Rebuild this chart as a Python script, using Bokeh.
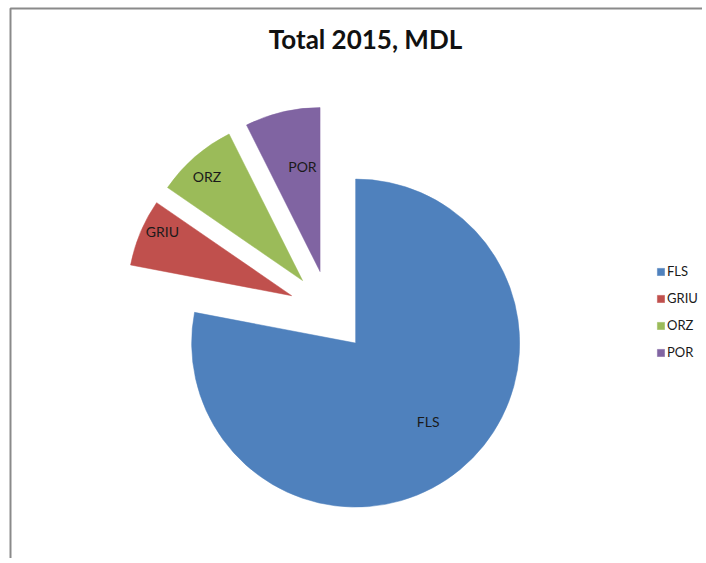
import math
from bokeh.plotting import figure
from bokeh.models import Range1d, Legend, LegendItem, Label, ColumnDataSource
from bokeh.core.properties import value
from bokeh.embed import file_html
from bokeh.resources import INLINE

# ---- data ----
categories = ["FLS", "GRIU", "ORZ", "POR"]
shares = [78.0, 6.6, 8.0, 7.4]
colors = ["#4F81BD", "#C0504D", "#9BBB59", "#8064A2"]
title_text = "Total 2015, MDL"

# ---- layout (data coords == screen px; y up) ----
W, H = 702, 558
CX, CY = 329, 563 - 311      # pie centre
R = 164                      # radius
EXPLODE = 41                 # explosion distance
label_frac = [0.65, 0.88, 0.86, 0.65]
label_dtheta = [-3.3, 3.7, -1.6, 3.8]

p = figure(width=W, height=H, x_range=Range1d(0, W), y_range=Range1d(563 - H, 563),
           output_backend="svg", toolbar_location=None, min_border=0)
p.axis.visible = False
p.grid.visible = False
p.outline_line_color = None
p.background_fill_color = "white"

# chart-area frame (left & top visible)
p.line(x=[10, 10, 720], y=[0, 555, 555], line_color="#8a8a8a", line_width=2)

total = sum(shares)
cum = 0.0
xs, ys, starts, ends, lx, ly = [], [], [], [], [], []
for i, v in enumerate(shares):
    t1 = cum / total * 2 * math.pi          # clockwise from top
    t2 = (cum + v) / total * 2 * math.pi
    cum += v
    mid = (t1 + t2) / 2
    dx, dy = math.sin(mid), math.cos(mid)   # data coords (y up)
    ax, ay = CX + EXPLODE * dx, CY + EXPLODE * dy
    xs.append(ax); ys.append(ay)
    starts.append(math.pi / 2 - t2)
    ends.append(math.pi / 2 - t1)
    lm = mid + math.radians(label_dtheta[i])
    lx.append(ax + label_frac[i] * R * math.sin(lm))
    ly.append(ay + label_frac[i] * R * math.cos(lm))

src = ColumnDataSource(dict(cat=categories, lx=lx, ly=ly))

renderers = []
for i in range(len(categories)):
    r = p.wedge(x=xs[i], y=ys[i], radius=R, start_angle=starts[i], end_angle=ends[i],
                fill_color=colors[i], line_color=colors[i], line_width=0.5)
    renderers.append(r)

p.text(x="lx", y="ly", text="cat", source=src, text_align="center", text_baseline="middle",
       text_font=value("Lato"), text_font_size="14px", text_color="#1a1a1a")

legend = Legend(items=[LegendItem(label=c, renderers=[r]) for c, r in zip(categories, renderers)],
                location=(656, 187 + (H - 547)), orientation="vertical",
                glyph_width=9, glyph_height=9, label_standoff=2,
                label_text_font="Lato", label_text_font_size="13px",
                label_text_color="#1a1a1a", label_height=14, spacing=11,
                padding=0, margin=0, border_line_color=None, background_fill_alpha=0)
p.add_layout(legend, "center")

p.add_layout(Label(x=365, y=563 - 38, text=title_text, text_align="center", text_baseline="middle",
                   text_font="Lato", text_font_style="bold", text_font_size="26px",
                   text_color="#111111"))

open("out.html", "w").write(file_html(p, INLINE))
